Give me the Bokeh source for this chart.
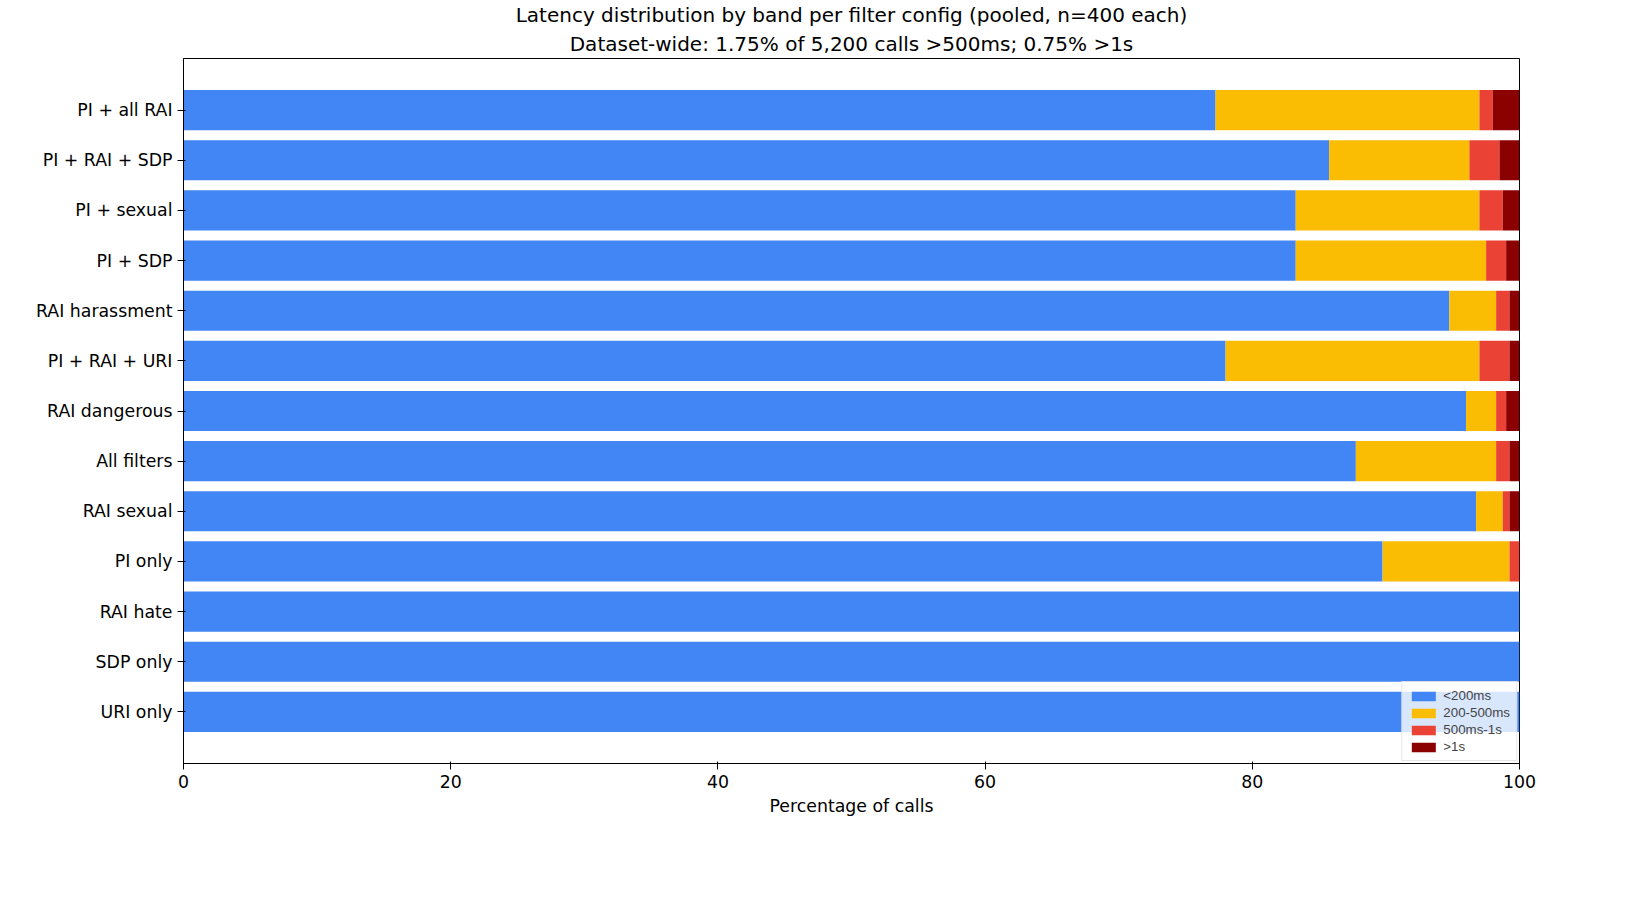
from bokeh.plotting import figure
from bokeh.models import ColumnDataSource, Legend, LegendItem, Title
from bokeh.embed import file_html
from bokeh.resources import INLINE

configs = ["PI + all RAI", "PI + RAI + SDP", "PI + sexual", "PI + SDP", "RAI harassment",
           "PI + RAI + URI", "RAI dangerous", "All filters", "RAI sexual", "PI only",
           "RAI hate", "SDP only", "URI only"]
fast = [77.25, 85.75, 83.25, 83.25, 94.75, 78.0, 96.0, 87.75, 96.75, 89.75, 100, 100, 100]
mid = [19.75, 10.5, 13.75, 14.25, 3.5, 19.0, 2.25, 10.5, 2.0, 9.5, 0, 0, 0]
slow = [1.0, 2.25, 1.75, 1.5, 1.0, 2.25, 0.75, 1.0, 0.5, 0.75, 0, 0, 0]
vslow = [2.0, 1.5, 1.25, 1.0, 0.75, 0.75, 1.0, 0.75, 0.75, 0.0, 0, 0, 0]
bands = ["<200ms", "200-500ms", "500ms-1s", ">1s"]
colors = ["#4285f4", "#fbbc04", "#ea4335", "#8b0000"]

n = len(configs)
ys = [n - 1 - i for i in range(n)]
p = figure(width=1600, height=840, x_range=(0, 100), y_range=(-1.03, n - 1 + 1.03),
           output_backend="svg", toolbar_location=None,
           min_border_left=183, min_border_right=81, min_border_top=10, min_border_bottom=77)
p.title = None
p.add_layout(Title(text="Dataset-wide: 1.75% of 5,200 calls >500ms; 0.75% >1s", align="center",
                   text_font_size="15pt", text_font_style="normal", text_font="DejaVu Sans",
                   text_color="black", standoff=6), "above")
p.add_layout(Title(text="Latency distribution by band per filter config (pooled, n=400 each)", align="center",
                   text_font_size="15pt", text_font_style="normal", text_font="DejaVu Sans",
                   text_color="black", standoff=0), "above")

items = []
left = [0.0] * n
for name, vals, c in zip(bands, [fast, mid, slow, vslow], colors):
    right = [l + v for l, v in zip(left, vals)]
    src = ColumnDataSource(dict(y=ys, left=left, right=right))
    r = p.hbar(y="y", left="left", right="right", height=0.8, color=c, source=src, line_color=None)
    items.append(LegendItem(label=name, renderers=[r]))
    left = right

p.yaxis.ticker = ys
p.yaxis.major_label_overrides = {y: configs[i] for i, y in enumerate(ys)}
p.xaxis.ticker = [0, 20, 40, 60, 80, 100]
p.xaxis.axis_label = "Percentage of calls"
for ax in (p.xaxis, p.yaxis):
    ax.major_label_text_font_size = "13pt"
    ax.major_label_text_font = "DejaVu Sans"
    ax.major_label_text_color = "black"
    ax.minor_tick_line_color = None
    ax.axis_line_color = "black"
p.xaxis.axis_label_text_font_size = "13pt"
p.xaxis.axis_label_text_font_style = "normal"
p.xaxis.axis_label_text_font = "DejaVu Sans"
p.xaxis.axis_label_text_color = "black"
p.grid.grid_line_color = None
p.outline_line_color = "black"

leg = Legend(items=items, location="bottom_right", label_text_font_size="10pt",
             glyph_height=12, glyph_width=30, spacing=2, padding=6, margin=2,
             background_fill_alpha=0.8, border_line_color="#cccccc")
p.add_layout(leg)

open("out.html", "w").write(file_html(p, INLINE))
